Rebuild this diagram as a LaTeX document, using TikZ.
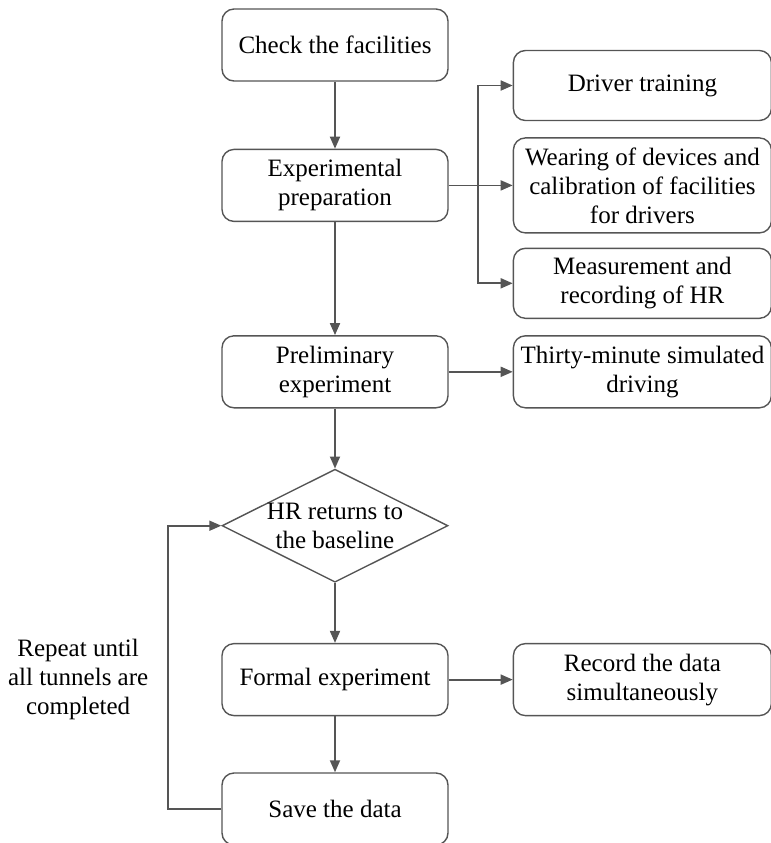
\documentclass[tikz,border=0pt]{standalone}
\usepackage{fontspec}
\setmainfont{Liberation Serif}
\usetikzlibrary{shapes.geometric, arrows.meta, positioning}

\definecolor{linegray}{HTML}{555555}

\begin{document}
\begin{tikzpicture}[
    font=\fontsize{12.5}{14.5}\selectfont,
    box/.style={draw=linegray, line width=0.7pt, rounded corners=6pt,
        align=center, inner xsep=2pt, minimum width=113pt, minimum height=36pt},
    sidebox/.style={box, minimum width=129pt, minimum height=35pt},
    arr/.style={draw=linegray, line width=0.9pt,
        -{Triangle[length=6pt, width=5pt]}}
]

\useasboundingbox (0,0) rectangle (385.5pt,-421.5pt);

\node[box] (check) at (167.5pt,-22.5pt) {Check the facilities};

\node[box,
    below=33.5pt of check] (prep) {Experimental\\preparation};

\node[box,
    below=56.5pt of prep] (prelim) {Preliminary\\experiment};

\node[draw=linegray,
    line width=0.7pt,
    diamond,
    aspect=2,
    align=center,
    inner sep=0pt,
    inner xsep=-5pt,
    minimum width=113pt,
    minimum height=56.5pt,
    below=30pt of prelim] (hr) {HR returns to\\the baseline};

\node[box,
    below=30pt of hr] (formal) {Formal experiment};

\node[box,
    below=28pt of formal] (save) {Save the data};

% right column
\node[sidebox,
    minimum height=47.5pt,
    right=32pt of prep] (wear) {Wearing of devices and\\calibration of facilities\\for drivers};

\node[sidebox,
    above=8pt of wear] (train) {Driver training};

\node[sidebox,
    below=7pt of wear] (measure) {Measurement and\\recording of HR};

\node[sidebox,
    minimum height=36pt,
    right=32pt of prelim] (drive) {Thirty-minute simulated\\driving};

\node[sidebox,
    minimum height=36pt,
    right=32pt of formal] (record) {Record the data\\simultaneously};

% loop label
\node[align=center,
    left=33pt of formal] (repeat) {Repeat until\\all tunnels are\\completed};

% Arrows
\draw[arr] (check) -- (prep);
\draw[arr] (prep) -- (prelim);
\draw[arr] (prelim) -- (hr);
\draw[arr] (hr) -- (formal);
\draw[arr] (formal) -- (save);

\draw[arr] (prep) -- (wear);
\draw[arr] (prep.east) -- ++(14.5pt,0) |- (train.west);
\draw[arr] (prep.east) -- ++(14.5pt,0) |- (measure.west);

\draw[arr] (prelim) -- (drive);
\draw[arr] (formal) -- (record);

\draw[arr] (save.west) -- ++(-26.5pt,0) |- (hr.west);

\end{tikzpicture}
\end{document}
